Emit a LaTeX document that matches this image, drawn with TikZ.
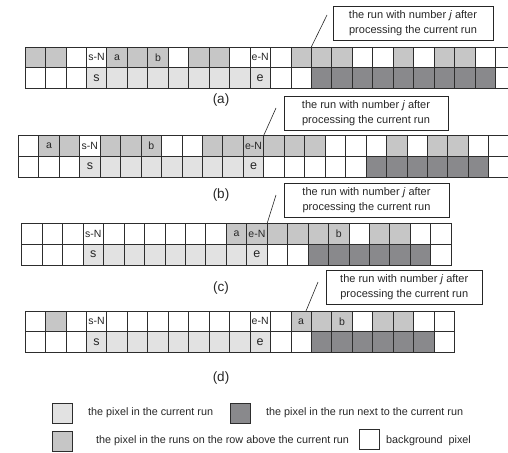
\documentclass[tikz,border=0pt]{standalone}
\usepackage{fontspec}
\setmainfont{Liberation Sans}
\definecolor{cW}{RGB}{255,255,255}
\definecolor{cG}{RGB}{198,198,198}
\definecolor{cL}{RGB}{226,226,226}
\definecolor{cD}{RGB}{137,137,140}
\definecolor{edge}{RGB}{45,45,45}
\tikzset{
  cell/.style={draw=edge, line width=0.7pt, anchor=north west, minimum width=20.45pt,
    minimum height=20.7pt, inner sep=0pt, outer sep=0pt},
  toplbl/.style={font=\fontsize{10.5}{12}\selectfont, inner sep=0pt, text=black!85},
  botlbl/.style={font=\fontsize{12.5}{14}\selectfont, inner sep=0pt, text=black!85},
  callout/.style={draw=black!85, line width=0.7pt, inner sep=0pt, align=center,
    font=\fontsize{11}{15.5}\selectfont, text=black!85},
  pointer/.style={draw=black!85, line width=0.6pt},
  caption/.style={font=\fontsize{13.5}{15}\selectfont, inner sep=0pt, text=black!85},
  legtxt/.style={font=\fontsize{10.8}{12}\selectfont, inner sep=0pt, anchor=west, text=black!85}
}
\newcommand\pixrow[5]{%
  \foreach \c [count=\i from 0] in {#5} {%
    \node[cell, fill=\c] (#1-#2-\i) at ({#3+\i*20.45}, {#4}) {};
  }%
}
\begin{document}
\begin{tikzpicture}[x=1pt, y=-1pt]
\useasboundingbox (0,0) rectangle (508,452);
\clip (0,0) rectangle (508,452);

% ---------- panel (a)
\pixrow{pa}{t}{25}{47}{cG,cG,cW,cW,cG,cG,cG,cW,cG,cG,cW,cW,cW,cG,cG,cG,cW,cW,cG,cW,cG,cG,cW,cW}
\pixrow{pa}{b}{25}{67.7}{cW,cW,cW,cL,cL,cL,cL,cL,cL,cL,cL,cL,cW,cW,cD,cD,cD,cD,cD,cD,cD,cD,cD,cW}
\node[toplbl] (pa-l1) at (pa-t-3) {s-N};
\node[toplbl] (pa-l2) at (pa-t-4) {a};
\node[toplbl] (pa-l3) at (pa-t-6) {b};
\node[toplbl] (pa-l4) at (pa-t-11) {e-N};
\node[botlbl] (pa-l5) at (pa-b-3) {s};
\node[botlbl] (pa-l6) at (pa-b-11) {e};
\node[callout, minimum width=160pt, minimum height=34pt] (boxa) at (413,23)
  {the run with number \textit{j} after\\processing the current run};
\coordinate (ca) at (327,15);
\draw[pointer] (ca) -- (pa-t-14.north west);
\node[caption] (capa) at (221,100) {(a)};

% ---------- panel (b)
\pixrow{pb}{t}{18.3}{135.5}{cW,cG,cG,cW,cG,cG,cG,cW,cW,cG,cG,cG,cG,cG,cG,cW,cW,cW,cG,cW,cG,cG,cW,cW}
\pixrow{pb}{b}{18.3}{156.2}{cW,cW,cW,cL,cL,cL,cL,cL,cL,cL,cL,cL,cW,cW,cW,cW,cW,cD,cD,cD,cD,cD,cD,cW}
\node[toplbl] (pb-l1) at (pb-t-1) {a};
\node[toplbl] (pb-l2) at (pb-t-3) {s-N};
\node[toplbl] (pb-l3) at (pb-t-6) {b};
\node[toplbl] (pb-l4) at (pb-t-11) {e-N};
\node[botlbl] (pb-l5) at (pb-b-3) {s};
\node[botlbl] (pb-l6) at (pb-b-11) {e};
\node[callout, minimum width=164pt, minimum height=34pt] (boxb) at (366,113)
  {the run with number \textit{j} after\\processing the current run};
\coordinate (cb) at (276,108);
\draw[pointer] (cb) -- (pb-t-12.north west);
\node[caption] (capb) at (221,195) {(b)};

% ---------- panel (c)
\pixrow{pc}{t}{21.7}{223.5}{cW,cW,cW,cW,cW,cW,cW,cW,cW,cW,cG,cG,cG,cG,cG,cG,cW,cG,cG,cW,cW}
\pixrow{pc}{b}{21.7}{244.2}{cW,cW,cW,cL,cL,cL,cL,cL,cL,cL,cL,cL,cW,cW,cD,cD,cD,cD,cD,cD,cW}
\node[toplbl] (pc-l1) at (pc-t-3) {s-N};
\node[toplbl] (pc-l2) at (pc-t-10) {a};
\node[toplbl] (pc-l3) at (pc-t-11) {e-N};
\node[toplbl] (pc-l4) at (pc-t-15) {b};
\node[botlbl] (pc-l5) at (pc-b-3) {s};
\node[botlbl] (pc-l6) at (pc-b-11) {e};
\node[callout, minimum width=165pt, minimum height=34pt] (boxc) at (366.5,200)
  {the run with number \textit{j} after\\processing the current run};
\coordinate (cc) at (276,195);
\draw[pointer] (cc) -- (pc-t-12.north west);
\node[caption] (capc) at (221,288) {(c)};

% ---------- panel (d)
\pixrow{pd}{t}{25}{311}{cW,cG,cW,cW,cW,cW,cW,cW,cW,cW,cW,cW,cW,cG,cG,cG,cW,cG,cG,cW,cW}
\pixrow{pd}{b}{25}{331.7}{cW,cW,cW,cL,cL,cL,cL,cL,cL,cL,cL,cL,cW,cW,cD,cD,cD,cD,cD,cD,cW}
\node[toplbl] (pd-l1) at (pd-t-3) {s-N};
\node[toplbl] (pd-l2) at (pd-t-11) {e-N};
\node[toplbl] (pd-l3) at (pd-t-13) {a};
\node[toplbl] (pd-l4) at (pd-t-15) {b};
\node[botlbl] (pd-l5) at (pd-b-3) {s};
\node[botlbl] (pd-l6) at (pd-b-11) {e};
\node[callout, minimum width=156.5pt, minimum height=33.5pt] (boxd) at (404.25,287.25)
  {the run with number \textit{j} after\\processing the current run};
\coordinate (cd) at (318,282);
\coordinate (ed) at (306,311);
\draw[pointer] (cd) -- (ed);
\node[caption] (capd) at (221,378) {(d)};

% ---------- legend
\node[cell, fill=cL] (lg1) at (52,403) {};
\node[legtxt] (lt1) at (88,413) {the pixel in the current run};
\node[cell, fill=cD] (lg2) at (230,403) {};
\node[legtxt] (lt2) at (266,413) {the pixel in the run next to the current run};
\node[cell, fill=cG] (lg3) at (52,431) {};
\node[legtxt] (lt3) at (96,441) {the pixel in the runs on the row above the current run};
\node[cell, fill=cW] (lg4) at (359,429) {};
\node[legtxt] (lt4) at (386,441) {background~~pixel};
\end{tikzpicture}
\end{document}
